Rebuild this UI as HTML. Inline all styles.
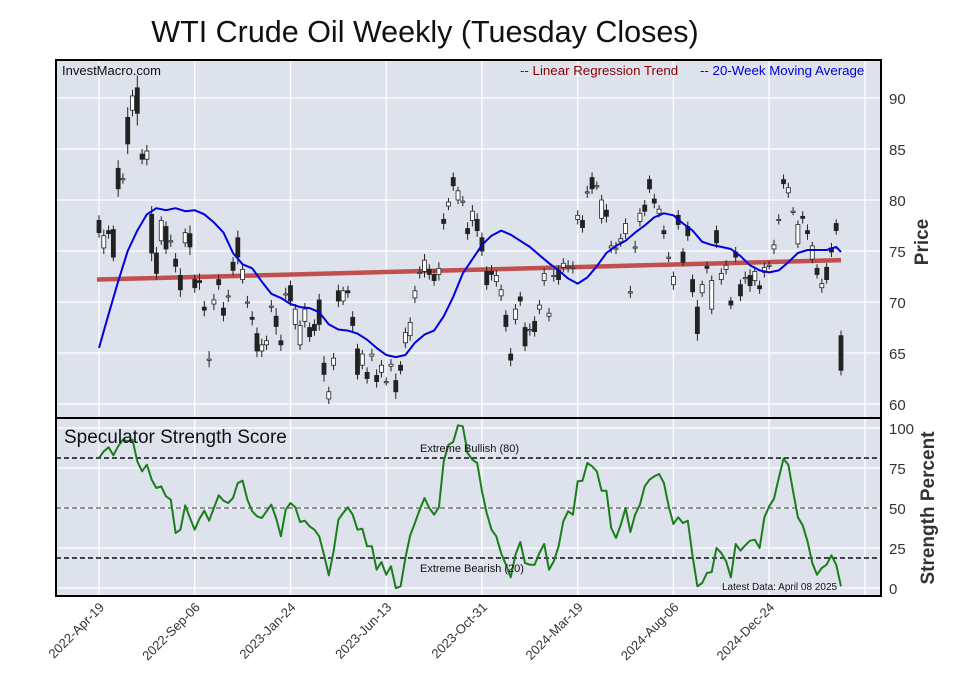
<!DOCTYPE html>
<html><head><meta charset="utf-8">
<style>
body{margin:0;background:#fff;width:957px;height:694px;overflow:hidden;font-family:"Liberation Sans",Arial,sans-serif;}
svg{display:block}
</style></head>
<body>
<svg id="chart" width="957" height="694" viewBox="0 0 957 694" xmlns="http://www.w3.org/2000/svg">
<text x="425" y="42" text-anchor="middle" font-size="30.5" fill="#111" font-family="Liberation Sans, sans-serif">WTI Crude Oil Weekly (Tuesday Closes)</text>
</svg>
<script>
// ---- data ----
const bodyTop=[78.0,76.5,77.0,77.1,83.1,82.1,88.1,90.2,91.0,84.5,84.8,78.6,74.8,78,77.4,76,74.2,72.6,76.8,76.7,72.2,72.1,69.5,64.4,70.2,72.2,69.4,70.6,73.9,76.3,73.2,70,68.5,66.9,65.8,66.2,69.6,68.6,66.2,70.8,71.6,69.3,67.7,69.3,67.5,67.8,70.2,64,61.2,64.5,71.1,71.1,71.1,68.5,65.4,64.9,63.1,64.9,62.8,63.8,62.2,63.9,62.3,63.8,67,68,71.1,72.9,74.1,73.2,72.7,73.3,78.1,79.8,82.2,80.9,79.9,77.2,78.9,78.1,76.3,73,73,72.6,71.2,68.7,64.9,69.3,70.5,67.5,67.3,68.1,69.7,72.8,68.9,72.6,73.1,73.8,73.5,73.4,78.5,78,80.8,82.2,81.4,80,79,75.5,75.3,76.2,77.7,71,75.4,78.7,79.5,82,80.1,79.1,77,74.4,72.5,78.5,74.9,77.4,72.2,69.5,71.7,73.5,72.1,77,72.8,73.6,70.1,74.9,71.7,72.4,72.6,73,71.6,73.4,73.6,75.6,78.1,82,81.2,78.9,77.6,78.4,77,75.5,73.3,71.8,73.4,75.3,77.7,66.7];
const bodyBot=[76.8,75.3,76.7,74.4,81.1,82.1,85.5,88.8,88.5,84.0,84.0,74.8,72.8,76,75.2,76,73.5,71.2,75.8,75.4,71.4,71.9,69.2,64.4,69.8,71.7,68.7,70.6,73.1,74.4,72.2,70,68.3,65.2,65.2,65.8,69.6,67.6,65.8,70.8,70.1,67.8,65.8,68.1,66.6,67.2,67.8,62.9,60.5,63.8,70.1,70.1,70.9,67.7,62.9,63.8,62.5,64.7,62.2,63.1,62.2,63.7,61.2,63.3,66,66.7,70.4,72.9,73,72.7,72.1,72.7,77.7,79.4,81.4,80,79.9,76.7,78,77,75,71.7,72.7,72,70.6,67.6,64.3,68.3,70.1,65.7,67.3,67.1,69.3,72.1,68.6,72.6,72.2,73.4,73.5,73.4,78.1,77.3,80.8,81.1,81.4,78.2,78.4,75.3,75.3,75.9,76.7,71,75.4,77.9,78.9,81.1,79.7,78.7,76.7,74.4,71.7,77.6,73.9,76.5,71,66.9,70.9,73.3,69.3,75.8,72.2,73.2,69.7,74.4,70.6,72.4,71.6,72.1,71.3,72.9,73.6,75.2,78.1,81.6,80.7,78.9,75.7,78.2,76.7,74.2,72.7,71.4,72.2,74.9,77,63.3];
const bullish=[1,0,1,1,1,0,1,0,1,1,0,1,1,0,1,0,1,1,0,1,1,1,1,0,0,1,1,0,1,1,0,0,1,1,0,0,0,1,1,0,1,0,0,0,1,1,1,1,0,0,1,0,1,1,1,0,1,0,1,0,0,0,1,1,0,0,0,0,0,1,1,0,1,0,1,0,0,1,0,1,1,1,1,0,0,1,1,0,1,1,0,1,0,0,0,0,1,0,0,0,0,1,0,1,0,0,1,0,0,0,0,0,0,0,1,1,1,0,1,0,0,1,1,1,1,1,0,1,0,1,0,0,1,1,1,0,1,0,1,0,0,0,0,1,0,0,0,1,1,0,1,0,1,1,1,1];
const wickPad=[0.5,0.6,0.5,0.4,0.8,0.5,1.0,0.6,1.2,0.5,0.6,0.8,0.6,0.4,0.5,0.6,0.6,0.7,0.4,0.8,0.5,0.7,0.6,0.8,0.6,0.5,0.6,0.6,0.5,0.7,0.4,0.6,0.6,0.6,0.6,0.5,0.6,0.8,0.6,0.6,0.5,0.5,0.5,0.6,0.5,0.5,0.6,0.7,0.5,0.5,0.6,0.4,0.5,0.6,0.5,0.4,0.5,0.5,0.6,0.5,0.4,0.5,0.7,0.4,0.5,0.5,0.5,0.6,0.6,0.5,0.5,0.6,0.6,0.4,0.5,0.4,0.5,0.6,0.6,0.6,0.5,0.5,0.6,0.5,0.5,0.5,0.6,0.5,0.5,0.5,0.6,0.5,0.5,0.5,0.5,0.6,0.5,0.5,0.6,0.6,0.5,0.5,0.6,0.5,0.4,0.5,0.6,0.5,0.6,0.5,0.5,0.6,0.6,0.5,0.5,0.4,0.5,0.4,0.5,0.5,0.5,0.5,0.4,0.5,0.5,0.7,0.4,0.5,0.5,0.5,0.5,0.5,0.4,0.5,0.5,0.6,0.6,0.5,0.5,0.5,0.4,0.5,0.5,0.5,0.5,0.4,0.4,0.5,0.6,0.4,0.4,0.5,0.4,0.5,0.4,0.5,0.4,0.5,0.5,0.6];
const maWeeks=[0,2,4,6,8,10,12,14,16,18,20,22,24,26,28,30,32,34,36,38,40,42,44,46,48,50,52,54,56,58,60,62,64,66,68,70,72,74,76,78,80,82,84,86,88,90,92,94,96,98,100,102,104,106,108,110,112,114,116,118,120,122,124,126,128,130,132,134,136,138,140,142,144,146,148,150,152,154,155];
const maValues=[65.5,68.8,72,75,77,78.6,79.2,79.0,79.2,78.9,79.0,78.6,77.8,76.8,74.8,73.7,73.3,72,70.8,70.4,69.8,69.5,69.4,69.0,67.8,67.3,67.2,66.9,66.3,65.5,64.8,64.6,64.8,66,66.8,67.2,68.6,70.5,72.8,74.2,75.6,76.5,77,76.6,76,75.4,74.6,73.8,73.1,72.3,71.8,72.4,73.5,74.8,75.5,76,76.8,77.5,78.3,78.7,78.5,77.7,77,75.9,75.6,75.4,75.2,74.5,73.6,73.1,72.9,73.1,73.9,74.8,75.1,75.1,75.1,75.4,74.9];
const regStart=72.2, regEnd=74.1;
const strength=[80,84,86.4,81.6,87,91,90,91,78,72,76,67,62,63,57,55,35,37,51.6,44,37,43.6,48.4,42.4,50,57.6,54.4,53,56,65,66.4,55,48,45,44,48,52,44,33,49,53,50.4,41.6,42.4,39,37,33,22,9.6,24,43,47,50.4,46,37,37.6,27,27,13,17.6,10,15,2,3,20,33.6,41,49,56,50,46,50.4,78,88,89.6,99.6,99,83,79,77,60,47,37,33,23,16,8.4,22,29.6,17,16,16,23,28.4,13,18,27,42,48,46,66,66.4,77,75,72,60.4,60.4,38,32,40,50,35.6,46,52,63,67,69,70.4,65,51,40.4,44.4,41,42.4,21,3,5,11,11.6,26,23,18,8.4,28.4,24.4,27.6,30.4,31,26,44.4,51,55.6,68,79.6,76,60,44.4,39.6,30,17,10,14,16,21.6,16,3];
const dateLabels=["2022-Apr-19","2022-Sep-06","2023-Jan-24","2023-Jun-13","2023-Oct-31","2024-Mar-19","2024-Aug-06","2024-Dec-24"];
const dateWeeks=[0,20,40,60,80,100,120,140];
const priceTicks=[60,65,70,75,80,85,90];
const strengthTicks=[0,25,50,75,100];

// ---- axes ----
const X0=99, WEEK=4.787;
const xw=i=>X0+i*WEEK;
const yp=p=>404-(p-60)*10.2;
const ys=v=>508-(v-50)*1.667;
const ysTick=v=>508-(v-50)*1.6;
const L=56,R=881,T=60,MID=418,B=596;

const svg=document.getElementById('chart');
const NS='http://www.w3.org/2000/svg';
function mk(tag,attrs,parent){const e=document.createElementNS(NS,tag);for(const k in attrs)e.setAttribute(k,attrs[k]);(parent||svg).appendChild(e);return e;}

const p1=mk('rect',{x:L,y:T,width:R-L,height:MID-T,fill:'#dde2ec'});


const p2=mk('rect',{x:L,y:MID,width:R-L,height:B-MID,fill:'#dde2ec'});



for(let k=0;k<=8;k++){
  const x=xw(k*20);
  const g=mk('line',{x1:x,x2:x,y1:T,y2:B,stroke:'#fff','stroke-width':1.3});
  
  
}
priceTicks.forEach(p=>{
  const y=yp(p);
  const g=mk('line',{x1:L,x2:R,y1:y,y2:y,stroke:'#fff','stroke-width':1.3});
  
  
  const t=mk('text',{x:889,y:y+6,'font-size':15,fill:'#333'});
  t.textContent=p;
  
  
});
strengthTicks.forEach(v=>{
  const y=ysTick(v);
  const g=mk('line',{x1:L,x2:R,y1:y,y2:y,stroke:'#fff','stroke-width':1.3});
  
  
  const t=mk('text',{x:889,y:y+6,'font-size':15,fill:'#333'});
  t.textContent=v;
  
  
});

const reg=mk('line',{x1:xw(0)-2,x2:xw(155),y1:yp(regStart),y2:yp(regEnd),stroke:'#c0504d','stroke-width':4.5});



for(let i=0;i<bodyTop.length;i++){
  const x=xw(i);
  const top=yp(bodyTop[i]), bot=yp(bodyBot[i]);
  const w=mk('line',{x1:x,x2:x,y1:yp(bodyTop[i]+wickPad[i]),y2:yp(bodyBot[i]-wickPad[i]),stroke:'#222','stroke-width':1});
  
  
  const h=Math.max(bot-top,1.2);
  const r=mk('rect',{x:x-2,y:top,width:4,height:h,fill:bullish[i]?'#222':'#fff',stroke:'#222','stroke-width':0.8});
  
  
}

const maPts=maWeeks.map((w,j)=>xw(w).toFixed(1)+','+yp(maValues[j]).toFixed(1)).join(' ');
const ma=mk('polyline',{points:maPts,fill:'none',stroke:'#0000dd','stroke-width':2,'stroke-linejoin':'round'});



[[80,'#111'],[50,'#777'],[20,'#111']].forEach(([v,c])=>{
  const l=mk('line',{x1:L,x2:R,y1:ys(v),y2:ys(v),stroke:c,'stroke-width':1.6,'stroke-dasharray':'5,3'});
  
  
});
const sPts=strength.map((v,i)=>xw(i).toFixed(1)+','+ys(v).toFixed(1)).join(' ');
const sl=mk('polyline',{points:sPts,fill:'none',stroke:'#1a7f1a','stroke-width':2,'stroke-linejoin':'round'});



const f1=mk('rect',{x:L,y:T,width:R-L,height:MID-T,fill:'none',stroke:'#000','stroke-width':2});


const f2=mk('rect',{x:L,y:MID,width:R-L,height:B-MID,fill:'none',stroke:'#000','stroke-width':2});



dateLabels.forEach((d,j)=>{
  const x=xw(dateWeeks[j]);
  const t=mk('text',{x:x+6,y:608,'font-size':13,fill:'#333','text-anchor':'end',transform:`rotate(-45 ${x+6} 608)`});
  t.textContent=d;
  
  
});
</script>
<div style="position:absolute;left:0;top:0;width:957px;height:694px;pointer-events:none">
<svg width="957" height="694" xmlns="http://www.w3.org/2000/svg">
<text x="62" y="75" font-size="13" fill="#111">InvestMacro.com</text>
<text x="520" y="75" font-size="13.3" fill="#8b0000">-- Linear Regression Trend</text>
<text x="700" y="75" font-size="13.3" fill="#0000dd">-- 20-Week Moving Average</text>
<text x="64" y="443" font-size="19" fill="#111">Speculator Strength Score</text>
<text x="420" y="452" font-size="11" fill="#111">Extreme Bullish (80)</text>
<text x="420" y="572" font-size="11" fill="#111">Extreme Bearish (20)</text>
<text x="722" y="590" font-size="10" fill="#111">Latest Data: April 08 2025</text>
<text transform="translate(928 242) rotate(-90)" text-anchor="middle" font-size="19" font-weight="bold" fill="#333">Price</text>
<text transform="translate(934 508) rotate(-90)" text-anchor="middle" font-size="19" font-weight="bold" fill="#333">Strength Percent</text>
</svg>
</div>
</body></html>
